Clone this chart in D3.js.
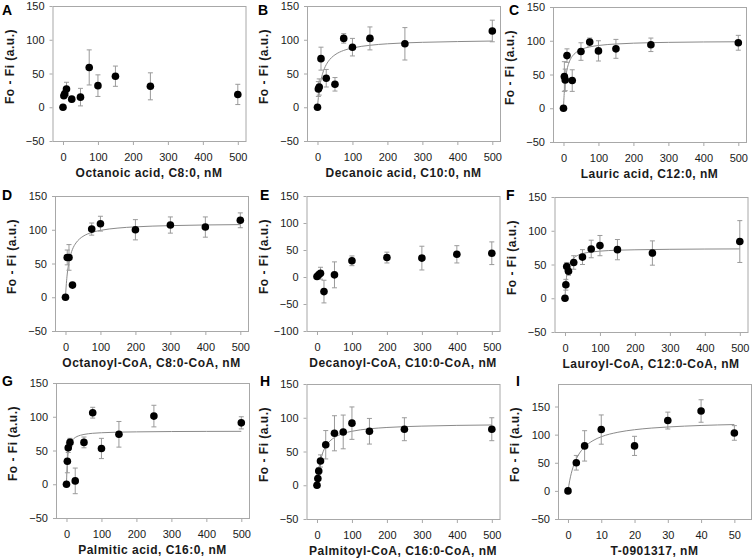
<!DOCTYPE html>
<html>
<head>
<meta charset="utf-8">
<script src="https://cdn.jsdelivr.net/npm/d3@7"></script>
<style>
  html, body { margin: 0; padding: 0; background: #fff; }
  svg { display: block; }
  text { font-family: "Liberation Sans", Arial, sans-serif; }
</style>
</head>
<body>
<svg id="chart" width="754" height="559"></svg>
<script>
// ---------- DATA ----------
const xTicks500 = [0, 100, 200, 300, 400, 500];
const xTicks50 = [0, 10, 20, 30, 40, 50];
const yTicksStd = [-50, 0, 50, 100, 150];
const yTicksE = [-100, -50, 0, 50, 100, 150];

const titleA = "Octanoic acid, C8:0, nM";
const concA = [0, 2.5, 5, 10, 25, 50, 75, 100, 150, 250, 500];
const respA = [0, 17, 20, 27, 12, 15, 59, 32, 46, 31, 19];
const errA  = [0, 4, 4, 10, 4, 13, 26, 16, 15, 20, 15];

const titleB = "Decanoic acid, C10:0, nM";
const concB = [0, 2.5, 5, 10, 25, 50, 75, 100, 150, 250, 500];
const respB = [0, 27, 30, 72, 43, 34, 102, 89, 102, 94, 113];
const errB  = [0, 11, 12, 17, 13, 10, 7, 13, 17, 24, 16];
const fitXB = [0, 1, 2.5, 5, 10, 15, 20, 30, 40, 50, 75, 100, 150, 200, 300, 400, 500];
const fitYB = [0, 6.3, 14.4, 25.3, 40.4, 50.5, 57.7, 67.3, 73.5, 77.7, 84.2, 87.8, 91.8, 94.0, 96.2, 97.3, 98.1];

const titleC = "Lauric acid, C12:0, nM";
const concC = [0, 2.5, 5, 10, 25, 50, 75, 100, 150, 250, 500];
const respC = [0, 47, 42, 78, 41, 84, 98, 85, 88, 94, 97];
const errC  = [0, 22, 16, 10, 16, 13, 6, 15, 14, 10, 11];
const fitXC = [0, 1, 2.5, 5, 10, 15, 20, 30, 40, 50, 75, 100, 150, 200, 300, 400, 500];
const fitYC = [0, 11.8, 25, 40, 57.1, 66.7, 72.7, 80, 84.2, 87, 90.9, 93, 95.2, 96.4, 97.6, 98.2, 98.5];

const titleD = "Octanoyl-CoA, C8:0-CoA, nM";
const concD = [0, 5, 10, 20, 75, 100, 200, 300, 400, 500];
const respD = [0, 59, 59, 18, 101, 109, 100, 107, 104, 114];
const errD  = [0, 11, 19, 2, 9, 11, 15, 12, 15, 11];
const fitXD = [0, 1, 2.5, 5, 10, 15, 20, 30, 40, 50, 75, 100, 150, 200, 300, 400, 500];
const fitYD = [0, 9.2, 20.4, 34.4, 52.4, 63.5, 71, 80.5, 86.3, 90.2, 95.9, 99.1, 102.5, 104.3, 106.1, 107.1, 107.6];

const titleE = "Decanoyl-CoA, C10:0-CoA, nM";
const concE = [0, 5, 10, 20, 50, 100, 200, 300, 400, 500];
const respE = [1, 4, 7, -27, 4, 30, 36, 35, 42, 44];
const errE  = [0, 5, 11, 21, 24, 9, 10, 22, 16, 21];

const titleF = "Lauroyl-CoA, C12:0-CoA, nM";
const concF = [0, 2.5, 5, 10, 25, 50, 75, 100, 150, 250, 500];
const respF = [0, 20, 47, 40, 53, 61, 73, 78, 72, 67, 84];
const errF  = [0, 8, 6, 6, 10, 11, 13, 15, 15, 18, 31];
const fitXF = [0, 1, 2.5, 5, 10, 15, 20, 30, 40, 50, 75, 100, 150, 200, 300, 400, 500];
const fitYF = [0, 10.6, 21.8, 33.6, 46.3, 52.9, 56.9, 61.7, 64.3, 66.1, 68.5, 69.8, 71.2, 71.8, 72.5, 72.9, 73.1];

const titleG = "Palmitic acid, C16:0, nM";
const concG = [0, 2.5, 5, 10, 25, 50, 75, 100, 150, 250, 500];
const respG = [0, 34, 54, 62, 5, 62, 106, 53, 74, 101, 91];
const errG  = [0, 17, 7, 6, 19, 8, 8, 15, 19, 16, 9];
const fitXG = [0, 1, 2.5, 5, 10, 15, 20, 30, 40, 50, 75, 100, 150, 200, 300, 400, 500];
const fitYG = [0, 17.6, 32.9, 46.5, 58.5, 64.1, 67.2, 70.7, 72.6, 73.8, 75.5, 76.3, 77.2, 77.6, 78.1, 78.3, 78.4];

const titleH = "Palmitoyl-CoA, C16:0-CoA, nM";
const concH = [0, 2.5, 5, 10, 25, 50, 75, 100, 150, 250, 500];
const respH = [0, 10, 21, 36, 60, 77, 79, 92, 80, 83, 83];
const errH  = [0, 3, 5, 9, 21, 26, 25, 24, 19, 17, 17];
const fitXH = [0, 1, 2.5, 5, 10, 15, 20, 30, 40, 50, 75, 100, 150, 200, 300, 400, 500];
const fitYH = [0, 5.75, 13.1, 23, 36.8, 46, 52.6, 61.3, 66.9, 70.8, 76.7, 80, 83.6, 85.6, 87.6, 88.7, 89.3];

const titleI = "T-0901317, nM";
const concI = [0, 2.5, 5, 10, 20, 30, 40, 50];
const respI = [0, 50, 80, 109, 80, 125, 142, 103];
const errI  = [0, 13, 27, 26, 17, 15, 20, 13];
const fitXI = [0, 0.5, 1, 2, 2.5, 3, 5, 7.5, 10, 15, 20, 25, 30, 35, 40, 45, 50];
const fitYI = [0, 17.9, 31.25, 50, 56.8, 62.5, 78.1, 89.3, 96.2, 104.2, 108.7, 111.6, 113.6, 115.1, 116.3, 117.2, 117.9];

const yLabel = "Fo - Fi (a.u.)";

// ---------- LAYOUT ----------
const PW = 193, PH = 135;
const panels = [
  {id:"A", left:52.5, top:6,   lx:2,   ly:15,  title:titleA, xs:concA, ys:respA, es:errA, fx:null,  fy:null,  xd:[-30,522], yd:[-50,150], xt:xTicks500, yt:yTicksStd},
  {id:"B", left:307,  top:6,   lx:258, ly:15,  title:titleB, xs:concB, ys:respB, es:errB, fx:fitXB, fy:fitYB, xd:[-30,522], yd:[-50,150], xt:xTicks500, yt:yTicksStd},
  {id:"C", left:553,  top:7,   lx:509, ly:15,  title:titleC, xs:concC, ys:respC, es:errC, fx:fitXC, fy:fitYC, xd:[-30,522], yd:[-50,150], xt:xTicks500, yt:yTicksStd},
  {id:"D", left:55,   top:196, lx:2,   ly:200, title:titleD, xs:concD, ys:respD, es:errD, fx:fitXD, fy:fitYD, xd:[-30,522], yd:[-50,150], xt:xTicks500, yt:yTicksStd},
  {id:"E", left:306.5,top:196, lx:260, ly:200, title:titleE, xs:concE, ys:respE, es:errE, fx:null,  fy:null,  xd:[-30,522], yd:[-100,150], xt:xTicks500, yt:yTicksE},
  {id:"F", left:554.5,top:197, lx:506, ly:200, title:titleF, xs:concF, ys:respF, es:errF, fx:fitXF, fy:fitYF, xd:[-30,522], yd:[-50,150], xt:xTicks500, yt:yTicksStd},
  {id:"G", left:56,   top:383, lx:2,   ly:386, title:titleG, xs:concG, ys:respG, es:errG, fx:fitXG, fy:fitYG, xd:[-30,522], yd:[-50,150], xt:xTicks500, yt:yTicksStd},
  {id:"H", left:306.5,top:384, lx:260, ly:386, title:titleH, xs:concH, ys:respH, es:errH, fx:fitXH, fy:fitYH, xd:[-30,522], yd:[-50,150], xt:xTicks500, yt:yTicksStd},
  {id:"I", left:558,  top:384, lx:516, ly:386, title:titleI, xs:concI, ys:respI, es:errI, fx:fitXI, fy:fitYI, xd:[-3,55],   yd:[-50,190], xt:xTicks50,  yt:yTicksStd}
];

const svg = d3.select("#chart");
svg.append("rect").attr("width", 754).attr("height", 559).attr("fill", "#fff");

const frameColor = "#a8a8a8";
const barColor = "#9a9a9a";
const curveColor = "#8a8a8a";
const textColor = "#1a1a1a";

panels.forEach(p => {
  const x = d3.scaleLinear().domain(p.xd).range([0, PW]);
  const y = d3.scaleLinear().domain(p.yd).range([PH, 0]);

  // panel letter
  svg.append("text")
    .attr("x", p.lx).attr("y", p.ly)
    .attr("font-size", 14).attr("font-weight", "bold")
    .attr("fill", "#000")
    .text(p.id);

  const g = svg.append("g").attr("transform", `translate(${p.left},${p.top})`);

  // x axis
  const xa = g.append("g").attr("transform", `translate(0,${PH})`)
    .call(d3.axisBottom(x).tickValues(p.xt).tickSize(4).tickPadding(8).tickFormat(d3.format("d")));
  xa.select(".domain").remove();
  xa.selectAll("line").attr("stroke", frameColor);
  xa.selectAll("text").attr("font-size", 11).attr("fill", textColor)
    .attr("font-family", '"Liberation Sans", Arial, sans-serif');

  // y axis
  const ya = g.append("g")
    .call(d3.axisLeft(y).tickValues(p.yt).tickSize(3).tickPadding(5).tickFormat(d3.format("d")));
  ya.select(".domain").remove();
  ya.selectAll("line").attr("stroke", frameColor);
  ya.selectAll("text").attr("font-size", 11).attr("fill", textColor)
    .attr("font-family", '"Liberation Sans", Arial, sans-serif');

  // frame
  g.append("rect")
    .attr("x", 0.5).attr("y", 0.5).attr("width", PW).attr("height", PH)
    .attr("fill", "none").attr("stroke", frameColor).attr("stroke-width", 1);

  // axis titles
  g.append("text")
    .attr("x", PW / 2).attr("y", PH + 36)
    .attr("text-anchor", "middle")
    .attr("font-size", 12).attr("font-weight", "bold")
    .attr("letter-spacing", 0.5)
    .attr("fill", textColor)
    .text(p.title);

  g.append("text")
    .attr("transform", `translate(-43,${PH / 2 - 7}) rotate(-90)`)
    .attr("text-anchor", "middle")
    .attr("dy", "0.35em")
    .attr("font-size", 12).attr("font-weight", "bold")
    .attr("letter-spacing", 0.5)
    .attr("fill", textColor)
    .text(yLabel);

  // fitted curve
  if (p.fx) {
    const pts = p.fx.map((v, i) => [v, p.fy[i]]);
    g.append("path")
      .datum(pts)
      .attr("fill", "none")
      .attr("stroke", curveColor)
      .attr("stroke-width", 1)
      .attr("d", d3.line().x(d => x(d[0])).y(d => y(d[1])).curve(d3.curveMonotoneX));
  }

  const data = p.xs.map((v, i) => ({x: v, y: p.ys[i], e: p.es[i]}));

  // error bars
  const eb = g.append("g").attr("stroke", barColor).attr("stroke-width", 1);
  data.filter(d => d.e > 0).forEach(d => {
    const cx = x(d.x);
    eb.append("line").attr("x1", cx).attr("x2", cx).attr("y1", y(d.y - d.e)).attr("y2", y(d.y + d.e));
    eb.append("line").attr("x1", cx - 2.5).attr("x2", cx + 2.5).attr("y1", y(d.y + d.e)).attr("y2", y(d.y + d.e));
    eb.append("line").attr("x1", cx - 2.5).attr("x2", cx + 2.5).attr("y1", y(d.y - d.e)).attr("y2", y(d.y - d.e));
  });

  // markers
  g.append("g").selectAll("circle").data(data).join("circle")
    .attr("cx", d => x(d.x)).attr("cy", d => y(d.y)).attr("r", 3.8)
    .attr("fill", "#000");
});
</script>
</body>
</html>
